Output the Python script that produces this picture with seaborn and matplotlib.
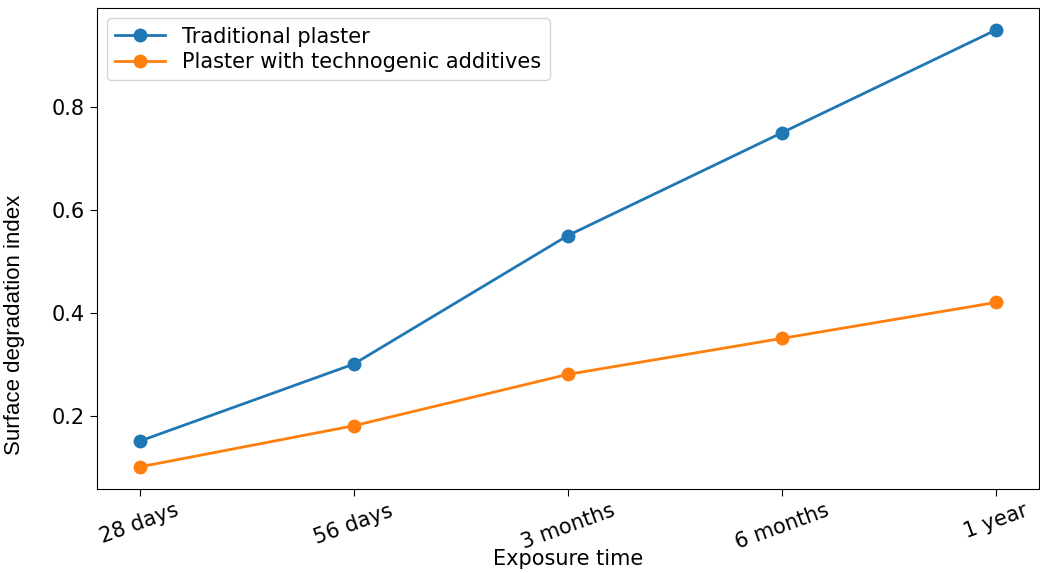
import matplotlib
matplotlib.use("Agg")
import matplotlib.pyplot as plt
import seaborn as sns
import pandas as pd

categories = ["28 days", "56 days", "3 months", "6 months", "1 year"]
traditional = [0.15, 0.30, 0.55, 0.75, 0.95]
additives = [0.10, 0.18, 0.28, 0.35, 0.42]
series_names = ["Traditional plaster", "Plaster with technogenic additives"]

df = pd.DataFrame({
    "time": categories * 2,
    "value": traditional + additives,
    "series": [series_names[0]] * 5 + [series_names[1]] * 5,
})

fig = plt.figure(figsize=(10.4, 5.73), dpi=100)
ax = fig.add_axes([0.093, 0.147, 0.906, 0.839])
colors = ["#1f77b4", "#ff7f0e"]
for name, c in zip(series_names, colors):
    sub = df[df["series"] == name]
    sns.lineplot(data=sub, x="time", y="value", ax=ax, color=c, marker="o",
                 markersize=10, markeredgewidth=0, linewidth=2.0, label=name)

ax.set_xlim(-0.2, 4.2)
ax.set_ylim(0.0575, 0.9925)
ax.set_xlabel("Exposure time", fontsize=15, labelpad=-3)
ax.set_ylabel("Surface degradation index", fontsize=16, family="Liberation Sans")
ax.yaxis.set_label_coords(-0.076, 0.34)
ax.tick_params(axis="both", labelsize=15, length=5)
plt.setp(ax.get_xticklabels(), rotation=20)
ax.legend(loc="upper left", fontsize=15, frameon=True, labelspacing=0.25,
          handlelength=2.4, borderpad=0.4)
fig.savefig("out.png", dpi=100)
